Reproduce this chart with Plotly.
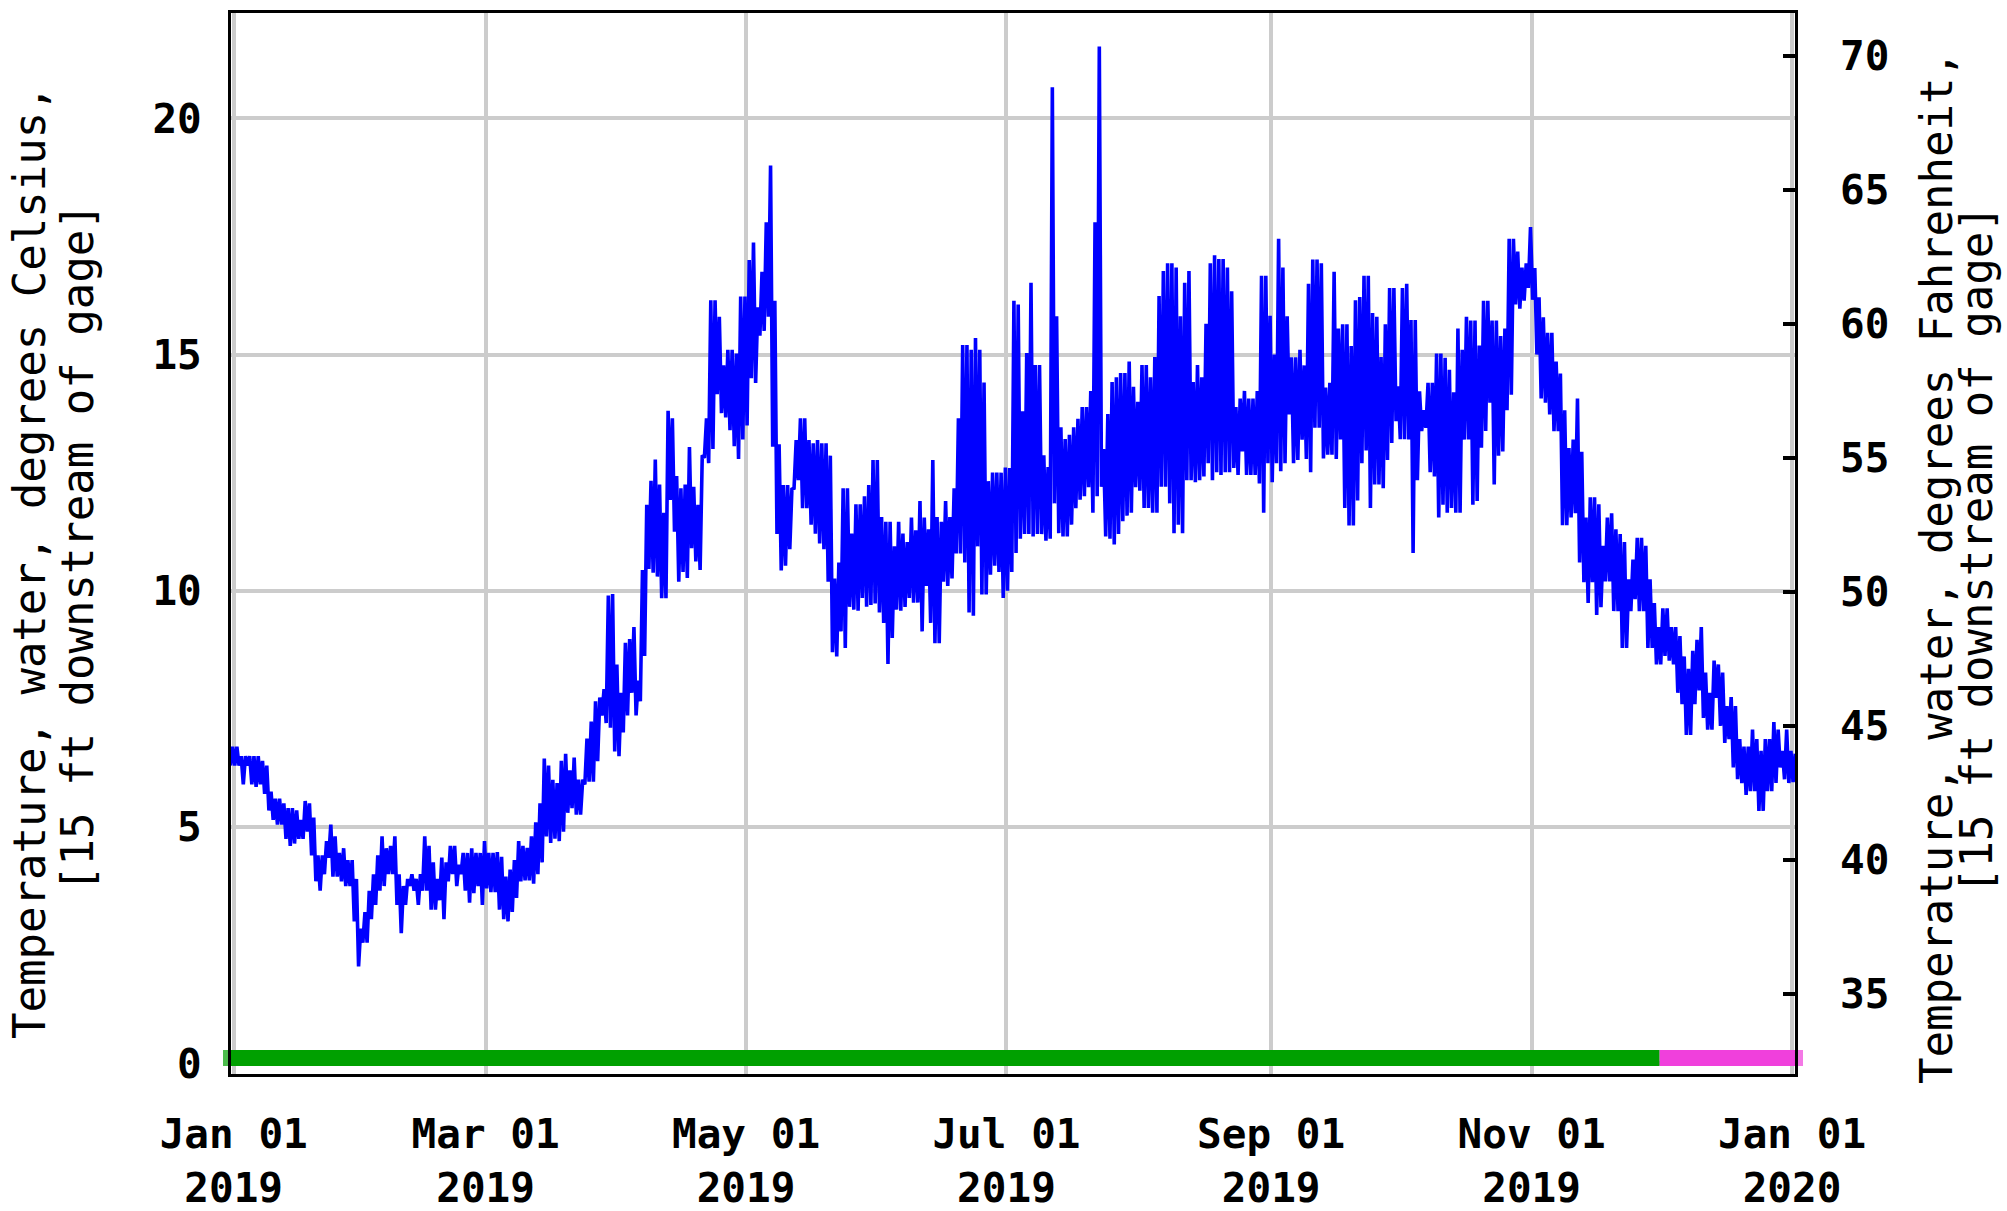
import pandas as pd
import plotly.graph_objects as go

# ---------------- data ----------------
# Daily maximum / minimum water temperature, deg C, from 2018-12-31 to 2020-01-01
first_day = "2018-12-31"

dec2018_max = [6.7]
dec2018_min = [6.3]

jan_max = [6.7, 6.5, 6.5, 6.5, 6.5, 6.5, 6.4, 6.3, 5.75, 5.6, 5.6, 5.5, 5.4, 5.4, 5.35, 5.15,
           5.55, 5.5, 5.2, 4.4, 4.4, 4.7, 5.05, 4.8, 4.45, 4.55, 4.3, 4.3, 3.9, 2.85, 3.2]
jan_min = [6.3, 6.3, 5.9, 6.3, 5.9, 5.85, 5.9, 5.7, 5.35, 5.15, 5.05, 5.05, 4.75, 4.6, 4.65, 4.75,
           4.75, 4.9, 4.4, 3.85, 3.65, 4.0, 4.35, 3.95, 3.95, 3.85, 3.75, 3.75, 3.0, 2.05, 2.55]

feb_max = [3.65, 4.0, 4.4, 4.8, 4.55, 4.6, 4.8, 4.0, 3.75, 3.9, 4.0, 3.9, 4.0, 4.8, 4.6, 4.25,
           3.9, 4.35, 4.25, 4.6, 4.6, 4.2, 4.45, 4.45, 4.55, 4.45, 4.45, 4.7]
feb_min = [2.55, 3.05, 3.35, 3.65, 3.75, 4.0, 4.0, 3.35, 2.75, 3.35, 3.75, 3.65, 3.35, 3.65, 3.65, 3.25,
           3.25, 3.45, 3.05, 3.85, 4.0, 3.75, 4.0, 3.65, 3.4, 3.6, 3.75, 3.35]

mar_max = [4.45, 4.45, 4.47, 4.37, 3.95, 4.1, 4.3, 4.7, 4.6, 4.56, 4.8, 5.1, 5.5, 6.45, 6.3, 6.0,
           5.93, 6.4, 6.55, 6.2, 6.47, 6.0, 6.0, 6.87, 7.23, 7.66, 7.74, 7.92, 9.9, 9.93, 8.44]
mar_min = [3.7, 3.62, 3.62, 3.25, 3.05, 3.0, 3.2, 3.5, 3.85, 3.87, 3.87, 3.8, 4.0, 4.25, 4.8, 4.66,
           4.75, 4.7, 4.9, 5.3, 5.4, 5.26, 5.26, 5.9, 5.96, 5.96, 6.39, 7.36, 7.2, 7.1, 6.6]

apr_max = [7.84, 8.9, 8.98, 9.23, 8.1, 10.44, 11.82, 12.33, 12.78, 12.25, 11.65, 13.81, 13.65, 12.43, 12.17,
           12.25, 13.04, 12.2, 11.82, 12.87, 13.65, 16.15, 16.15, 15.8, 14.77, 15.1, 15.1, 15.02, 16.23, 16.23]
apr_min = [6.5, 7.0, 7.36, 7.84, 7.36, 7.66, 8.62, 10.46, 10.38, 10.3, 9.84, 9.84, 11.92, 11.25, 10.19,
           10.4, 10.27, 10.9, 10.62, 10.44, 12.81, 12.7, 13.0, 14.16, 13.76, 13.67, 13.4, 13.06, 12.79, 13.2]

may_max = [17.0, 17.37, 16.0, 16.75, 17.8, 19.0, 16.14, 13.1, 12.24, 12.24, 12.15, 13.19, 13.65, 13.65, 13.19,
           13.12, 13.19, 13.12, 13.12, 12.86, 10.26, 10.6, 12.17, 12.17, 11.21, 11.83, 11.83, 12.0, 12.24, 12.77, 12.77]
may_min = [13.5, 14.5, 14.4, 15.4, 15.5, 15.8, 13.05, 11.2, 10.43, 10.53, 10.88, 12.17, 12.34, 11.75, 11.75,
           11.4, 11.21, 11.0, 10.88, 10.19, 8.7, 8.61, 9.14, 8.79, 9.66, 9.6, 9.58, 9.85, 9.66, 9.7, 9.73]

jun_max = [11.56, 11.46, 11.46, 10.94, 11.46, 11.21, 11.03, 11.55, 11.28, 11.9, 11.55, 11.3, 12.77, 11.56, 11.46,
           11.9, 11.56, 12.17, 13.65, 15.2, 15.2, 15.1, 15.35, 15.1, 14.41, 12.32, 12.5, 12.5, 12.5, 12.61]
jun_min = [9.54, 9.32, 8.45, 9.0, 9.6, 9.58, 9.66, 9.85, 9.75, 9.75, 9.14, 10.1, 9.32, 8.89, 8.89,
           10.19, 10.1, 10.26, 10.79, 10.79, 10.6, 9.54, 9.47, 10.94, 9.92, 9.92, 10.34, 10.53, 10.4, 9.85]

jul_max = [12.6, 16.14, 16.06, 13.8, 15.03, 16.52, 14.78, 14.78, 12.87, 12.62, 20.66, 15.81, 13.46, 13.21, 13.3,
           13.46, 13.64, 13.89, 13.89, 14.23, 17.8, 21.52, 13.0, 13.74, 14.42, 14.52, 14.61, 14.61, 14.85, 14.32, 14.0]
jul_min = [10.0, 10.4, 10.8, 11.1, 11.2, 11.2, 11.15, 11.2, 11.2, 11.06, 11.1, 11.85, 11.22, 11.15, 11.15,
           11.4, 11.75, 11.93, 12.0, 12.19, 11.65, 12.0, 12.2, 11.15, 11.1, 10.98, 11.2, 11.47, 11.59, 11.65, 12.19]

aug_max = [14.78, 14.78, 14.52, 14.95, 16.24, 16.77, 16.93, 16.93, 16.84, 15.81, 16.52, 16.77, 14.42, 14.78, 14.52,
           15.65, 16.93, 17.1, 17.02, 17.02, 16.84, 16.34, 13.89, 14.07, 14.23, 14.07, 14.07, 14.23, 16.67, 16.67, 15.82]
aug_min = [12.12, 11.75, 11.75, 11.65, 11.65, 12.2, 12.2, 11.85, 11.22, 11.4, 11.22, 12.34, 12.34, 12.3, 12.34,
           12.42, 12.7, 12.34, 12.51, 12.45, 12.51, 12.51, 12.6, 12.45, 12.95, 12.45, 12.45, 12.45, 12.27, 11.65, 12.7]

sep_max = [15.0, 17.45, 16.84, 15.81, 14.94, 14.94, 15.1, 14.77, 16.5, 17.01, 17.01, 16.93, 14.3, 14.4, 16.75,
           15.55, 15.64, 15.64, 15.18, 16.15, 16.22, 16.67, 16.67, 15.88, 15.8, 14.95, 15.64, 16.41, 16.41, 14.33]
sep_min = [12.3, 12.7, 12.53, 12.7, 13.73, 12.7, 12.77, 13.2, 12.79, 12.51, 13.45, 13.45, 12.8, 12.88, 12.88,
           12.79, 13.2, 11.75, 11.38, 11.38, 11.91, 12.7, 12.97, 11.75, 12.25, 12.25, 12.17, 12.77, 13.13, 13.59]

oct_max = [16.41, 16.5, 15.73, 15.73, 14.22, 13.82, 14.4, 14.4, 15.02, 15.02, 14.93, 14.68, 14.2, 15.55, 15.1,
           15.8, 15.72, 15.72, 15.19, 16.14, 16.14, 15.72, 15.72, 15.39, 15.55, 17.45, 17.45, 17.18, 16.84, 16.93, 17.7]
oct_min = [13.21, 13.21, 13.2, 10.8, 12.34, 13.38, 13.45, 12.51, 12.42, 11.55, 11.82, 11.65, 11.75, 11.65, 11.65,
           13.2, 13.2, 11.82, 11.9, 13.03, 13.38, 13.98, 12.25, 12.86, 12.95, 13.82, 14.15, 16.06, 15.97, 16.14, 16.41]

nov_max = [16.83, 16.21, 15.79, 15.46, 15.46, 14.85, 14.6, 13.82, 13.02, 13.2, 14.07, 12.94, 11.55, 11.98, 11.98,
           11.83, 10.95, 11.55, 11.64, 11.3, 11.2, 11.03, 10.24, 10.66, 11.12, 11.12, 10.95, 10.24, 9.74, 9.23]
nov_min = [16.16, 15.0, 14.07, 13.98, 13.73, 13.38, 13.38, 11.39, 11.39, 11.55, 11.64, 10.6, 10.18, 9.74, 10.18,
           9.49, 9.65, 10.2, 10.2, 9.57, 9.57, 8.79, 8.79, 9.57, 9.82, 9.57, 9.57, 8.79, 8.79, 8.44]

dec_max = [9.63, 9.63, 9.23, 9.23, 9.04, 8.61, 8.35, 8.73, 8.96, 9.23, 8.27, 7.84, 8.52, 8.44, 8.27,
           7.56, 7.75, 7.56, 6.86, 6.7, 6.7, 7.06, 6.86, 6.61, 6.86, 6.86, 7.22, 7.06, 6.61, 7.06, 6.61]
dec_min = [8.44, 8.62, 8.52, 8.44, 7.84, 7.6, 6.95, 6.95, 7.6, 7.89, 7.31, 7.06, 7.06, 7.73, 7.14,
           6.78, 6.86, 6.26, 6.01, 5.93, 5.68, 5.76, 5.76, 5.34, 5.34, 5.76, 5.76, 5.93, 6.26, 6.01, 5.93]

jan2020_max = [6.55]
jan2020_min = [5.95]

# Approval status bar (Approved / Provisional)
X_START = "2018-12-31 08:53"
X_END = "2020-01-01 16:48"
approval_names = ["Approved", "Provisional"]
approval_start = [X_START, "2019-12-01"]
approval_end = ["2019-12-01", X_END]
approval_colors = ["#00a000", "#f040dc"]

# Tick labels
c_ticks = [0, 5, 10, 15, 20]
f_ticks = [35, 40, 45, 50, 55, 60, 65, 70]

# ---------------- build ----------------
daily_max = (dec2018_max + jan_max + feb_max + mar_max + apr_max + may_max + jun_max +
             jul_max + aug_max + sep_max + oct_max + nov_max + dec_max + jan2020_max)
daily_min = (dec2018_min + jan_min + feb_min + mar_min + apr_min + may_min + jun_min +
             jul_min + aug_min + sep_min + oct_min + nov_min + dec_min + jan2020_min)
days = pd.date_range(first_day, periods=len(daily_max), freq="D")

xs, ys = [], []
for d, lo, hi in zip(days, daily_min, daily_max):
    xs += [d + pd.Timedelta(hours=6), d + pd.Timedelta(hours=18)]
    ys += [lo, hi]

TICK_FONT = dict(family="DejaVu Sans Mono", size=41, color="black", weight="bold")
TITLE_FONT = dict(family="DejaVu Sans Mono", size=44, color="black", weight="normal")
BAR_Y = 0.11

fig = go.Figure()
fig.add_trace(go.Scatter(x=xs, y=ys, mode="lines", line=dict(color="#0000ff", width=3.6),
                         showlegend=False, hoverinfo="skip"))
n = len(approval_names)
for i, (nm, s, e, c) in enumerate(zip(approval_names, approval_start, approval_end, approval_colors)):
    sizes = [16 if i == 0 else 0, 16 if i == n - 1 else 0]
    fig.add_trace(go.Scatter(x=[s, e], y=[BAR_Y, BAR_Y], mode="lines+markers", name=nm,
                             line=dict(color=c, width=16),
                             marker=dict(symbol="square", size=sizes, color=c, line=dict(width=0)),
                             cliponaxis=False, showlegend=False, hoverinfo="skip"))
fig.add_trace(go.Scatter(x=[], y=[], yaxis="y2", showlegend=False, hoverinfo="skip"))

fig.update_layout(
    width=2007, height=1211,
    margin=dict(l=231, r=212, t=13, b=137, pad=0, autoexpand=False),
    paper_bgcolor="white", plot_bgcolor="white",
    xaxis=dict(range=[X_START, X_END], type="date", tick0="2019-01-01", dtick="M2",
               tickformat="%b %d<br>%Y", showgrid=True, gridcolor="#cccccc", gridwidth=4,
               ticks="", showline=True, linewidth=3, linecolor="black", mirror=True,
               zeroline=False, tickfont=TICK_FONT, ticklabelstandoff=22, automargin=False),
    yaxis=dict(range=[-0.229, 22.23], tickvals=c_ticks, showgrid=True, gridcolor="#cccccc",
               gridwidth=4, ticks="", showline=True, linewidth=3, linecolor="black", mirror=True,
               zeroline=False, tickfont=TICK_FONT, ticklabelstandoff=18, automargin=False),
    yaxis2=dict(range=[32.02, 71.59], tickvals=f_ticks, overlaying="y", side="right",
                showgrid=False, zeroline=False, showline=False, ticks="inside", ticklen=12,
                tickwidth=4, tickcolor="black", tickfont=TICK_FONT, ticklabelstandoff=44,
                automargin=False),
    annotations=[
        dict(text="Temperature, water, degrees Celsius,", x=-0.1285, y=0.4826, xref="paper", yref="paper",
             textangle=-90, showarrow=False, xanchor="center", yanchor="middle", font=TITLE_FONT),
        dict(text="[15 ft downstream of gage]", x=-0.0978, y=0.4958, xref="paper", yref="paper",
             textangle=-90, showarrow=False, xanchor="center", yanchor="middle", font=TITLE_FONT),
        dict(text="Temperature, water, degrees Fahrenheit,", x=1.0902, y=0.4769, xref="paper", yref="paper",
             textangle=-90, showarrow=False, xanchor="center", yanchor="middle", font=TITLE_FONT),
        dict(text="[15 ft downstream of gage]", x=1.1164, y=0.4939, xref="paper", yref="paper",
             textangle=-90, showarrow=False, xanchor="center", yanchor="middle", font=TITLE_FONT),
    ],
)

fig.write_html("out.html", config={"displayModeBar": False},
               post_script="document.body.style.margin='0';document.body.style.overflow='hidden';")
